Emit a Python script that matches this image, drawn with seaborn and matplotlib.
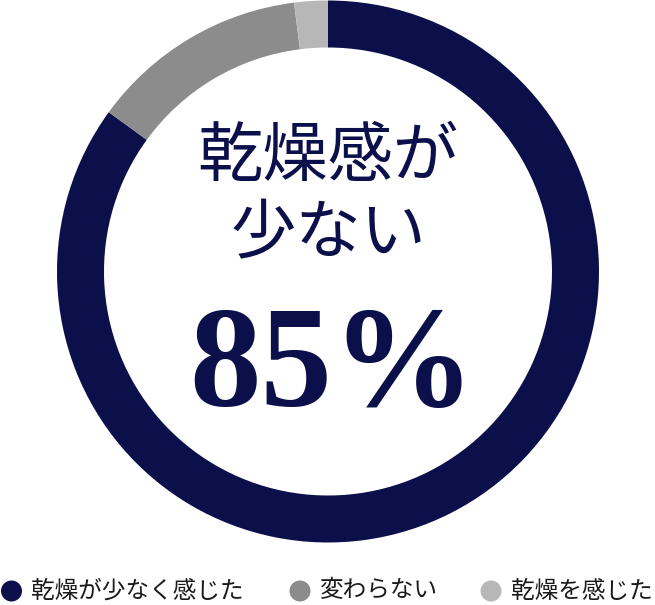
import matplotlib
matplotlib.use("Agg")
import matplotlib.pyplot as plt
import seaborn as sns

# ── data ────────────────────────────────────────────────────────────────
labels = ["乾燥が少なく感じた", "変わらない", "乾燥を感じた"]
values = [85, 13, 2]
colors = ["#0b0f4a", "#8c8c8c", "#b7b7b7"]
title_lines = ["乾燥感が", "少ない"]
headline = f"{values[0]}%"

sns.set_theme(style="white")
plt.rcParams["font.family"] = ["Noto Sans CJK JP", "DejaVu Sans"]

W, H = 655, 605
fig = plt.figure(figsize=(W / 100, H / 100), dpi=100)
fig.patch.set_facecolor("white")

# donut: centre (328, 271.5) px, outer radius 271 px
r_px = 271
cx, cy = 328, 271.5
ax = fig.add_axes([(cx - r_px) / W, (H - cy - r_px) / H, 2 * r_px / W, 2 * r_px / H])
ax.pie(values, colors=colors, startangle=90, counterclock=False, radius=1,
       wedgeprops=dict(width=47 / r_px, edgecolor="none", linewidth=0))
ax.set_xlim(-1, 1); ax.set_ylim(-1, 1)
ax.set_aspect("equal")
ax.axis("off")

navy = colors[0]
fig.text(cx / W, 1 - 158 / H, title_lines[0], ha="center", va="center",
         fontsize=47, color=navy)
fig.text(cx / W, 1 - 235 / H, title_lines[1], ha="center", va="center",
         fontsize=47, color=navy)
fig.text(332 / W, 1 - 406 / H, headline, ha="center", va="baseline",
         fontsize=103, color=navy, fontweight="bold",
         family=["Liberation Serif", "DejaVu Serif"])

# legend row
marker_x = [11.5, 300, 491]
ly = 591
for mx, lab, col in zip(marker_x, labels, colors):
    fig.add_artist(matplotlib.patches.Ellipse((mx / W, 1 - ly / H), 21 / W, 21 / H,
                                              transform=fig.transFigure,
                                              facecolor=col, edgecolor="none"))
    fig.text((mx + 20) / W, 1 - ly / H, lab, ha="left", va="center",
             fontsize=17, color="#1a1a1a")

fig.savefig("out.png", dpi=100, facecolor="white")
